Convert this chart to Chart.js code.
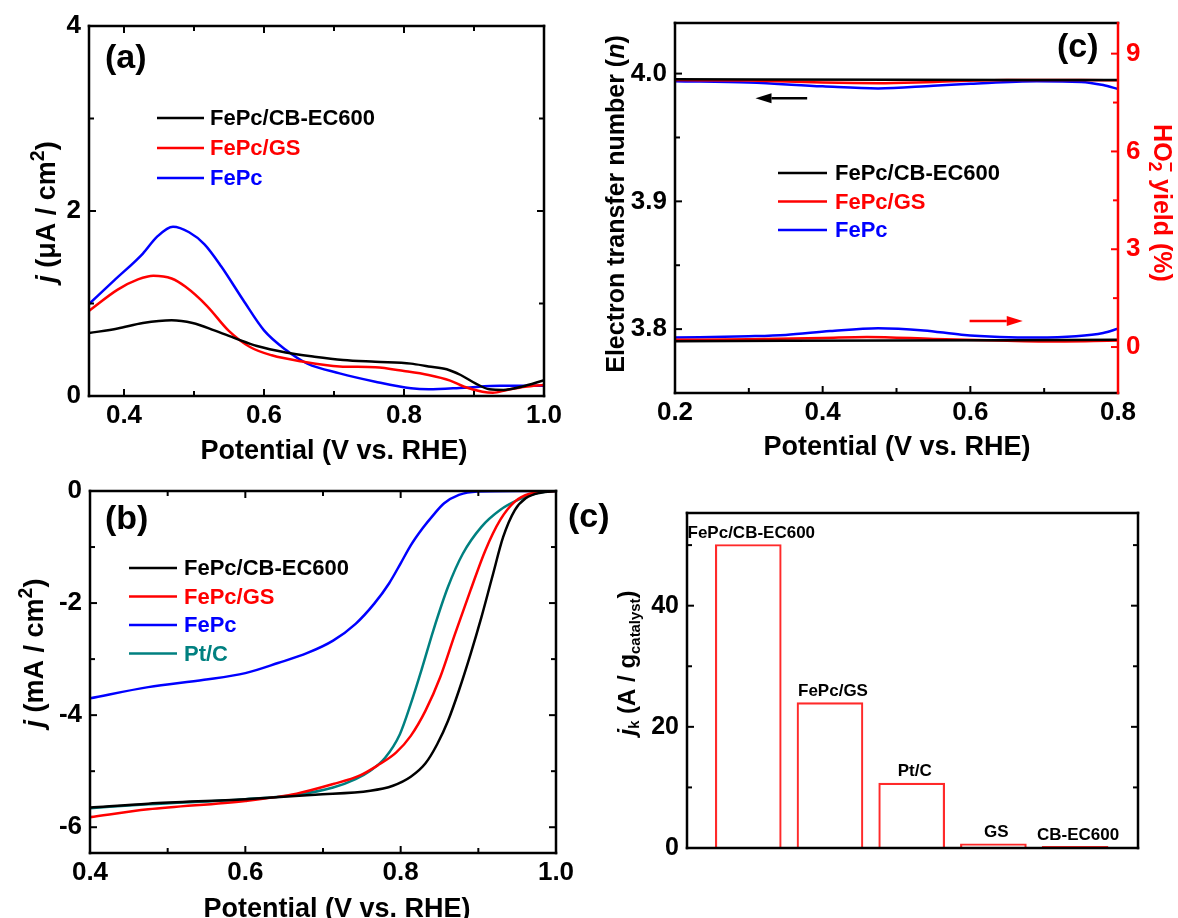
<!DOCTYPE html>
<html><head><meta charset="utf-8">
<script src="https://cdn.jsdelivr.net/npm/chart.js@4.4.0/dist/chart.umd.min.js"></script>
<style>
html,body{margin:0;padding:0;background:#fff;width:1178px;height:918px;overflow:hidden;position:relative;}
canvas{position:absolute;}
</style></head><body>
<canvas id="ca" width="580" height="468" style="left:0;top:0"></canvas>
<canvas id="cc" width="598" height="468" style="left:580px;top:0"></canvas>
<canvas id="cb" width="580" height="450" style="left:0;top:468px"></canvas>
<canvas id="cd" width="618" height="450" style="left:560px;top:468px"></canvas>
<script>
// ---------- Panel (a): ring current ----------
const aPotCB = [0.35,0.391,0.427,0.468,0.498,0.529,0.56,0.59,0.631,0.672,0.713,0.759,0.81,0.835,0.861,0.881,0.902,0.922,0.942,0.968,1.0];
const aJCB   = [0.68,0.73,0.79,0.82,0.79,0.71,0.62,0.54,0.47,0.425,0.39,0.37,0.35,0.32,0.29,0.227,0.137,0.072,0.065,0.10,0.17];
const aPotGS = [0.35,0.391,0.42,0.442,0.468,0.488,0.519,0.549,0.58,0.611,0.657,0.708,0.759,0.80,0.835,0.866,0.886,0.912,0.927,0.947,0.973,1.0];
const aJGS   = [0.92,1.15,1.26,1.30,1.27,1.18,0.97,0.71,0.53,0.44,0.37,0.32,0.31,0.27,0.227,0.166,0.10,0.047,0.036,0.065,0.10,0.12];
const aPotFe = [0.35,0.386,0.427,0.447,0.47,0.493,0.515,0.539,0.57,0.60,0.631,0.662,0.708,0.759,0.81,0.835,0.886,0.937,1.0];
const aJFe   = [0.995,1.25,1.54,1.72,1.83,1.77,1.64,1.40,1.04,0.71,0.50,0.35,0.245,0.155,0.083,0.072,0.09,0.11,0.11];
const aXTicks = [0.4,0.6,0.8,1.0], aXMinor = [0.5,0.7,0.9];
const aYTicks = [0,2,4], aYMinor = [1,3];

// ---------- Panel (b): LSV ----------
const bPotFe = [0.4,0.475,0.547,0.6,0.642,0.68,0.713,0.742,0.766,0.785,0.8,0.813,0.828,0.842,0.856,0.875,0.899,0.95,1.0];
const bJFe   = [-3.70,-3.50,-3.37,-3.25,-3.07,-2.89,-2.67,-2.37,-2.01,-1.65,-1.29,-0.97,-0.67,-0.43,-0.22,-0.07,-0.01,0,0];
const bPotCB = [0.4,0.475,0.6,0.69,0.761,0.79,0.813,0.832,0.847,0.861,0.875,0.89,0.904,0.918,0.932,0.947,0.961,0.98,1.0];
const bJCB   = [-5.65,-5.58,-5.50,-5.42,-5.35,-5.26,-5.10,-4.86,-4.52,-4.10,-3.56,-2.91,-2.25,-1.53,-0.82,-0.34,-0.13,-0.03,0];
const bPotGS = [0.4,0.475,0.6,0.666,0.713,0.747,0.77,0.794,0.813,0.832,0.851,0.87,0.89,0.909,0.928,0.947,0.966,1.0];
const bJGS   = [-5.82,-5.68,-5.53,-5.40,-5.23,-5.08,-4.90,-4.67,-4.37,-3.92,-3.32,-2.55,-1.77,-1.06,-0.52,-0.19,-0.05,0];
const bPotPt = [0.4,0.475,0.6,0.666,0.713,0.742,0.761,0.78,0.799,0.813,0.828,0.842,0.861,0.88,0.904,0.928,0.951,0.975,1.0];
const bJPt   = [-5.66,-5.59,-5.50,-5.42,-5.29,-5.14,-4.99,-4.76,-4.34,-3.80,-3.14,-2.49,-1.71,-1.12,-0.64,-0.34,-0.16,-0.04,0];
const bXTicks = [0.4,0.6,0.8,1.0], bXMinor = [0.5,0.7,0.9];
const bYTicks = [0,-2,-4,-6], bYMinor = [-1,-3,-5];

// ---------- Panel (c): n and HO2- yield ----------
const cPotCBn = [0.2,0.5,0.8];
const cNCB    = [3.9955,3.9952,3.995];
const cPotGSn = [0.2,0.3,0.4,0.475,0.55,0.65,0.75,0.8];
const cNGS    = [3.995,3.9945,3.993,3.9925,3.9935,3.995,3.995,3.9948];
const cPotFen = [0.2,0.3,0.4,0.475,0.55,0.6,0.69,0.75,0.78,0.8];
const cNFe    = [3.994,3.993,3.990,3.9883,3.9905,3.992,3.994,3.9935,3.991,3.988];
const cPotCBy = [0.2,0.5,0.8];
const cYCB    = [0.18,0.2,0.22];
const cPotGSy = [0.2,0.3,0.4,0.46,0.55,0.65,0.7,0.8];
const cYGS    = [0.22,0.24,0.28,0.31,0.25,0.19,0.17,0.2];
const cPotFey = [0.2,0.3,0.35,0.41,0.475,0.537,0.588,0.64,0.69,0.743,0.78,0.8];
const cYFe    = [0.29,0.33,0.37,0.49,0.58,0.51,0.38,0.31,0.29,0.33,0.43,0.56];
const cXTicks = [0.2,0.4,0.6,0.8], cXMinor = [0.3,0.5,0.7];
const cNTicks = [3.8,3.9,4.0], cNMinor = [3.85,3.95];
const cYTicks = [0,3,6,9], cYMinor = [1.5,4.5,7.5];

// ---------- Panel (d): kinetic current ----------
const dCats = ['FePc/CB-EC600','FePc/GS','Pt/C','GS','CB-EC600'];
const dVals = [50.1,24.0,10.7,0.7,0.27];
const dYTicks = [0,20,40], dYMinor = [10,30,50];

// ---------- helpers ----------
const FONT = '"Liberation Sans", Arial, Helvetica, sans-serif';
Chart.defaults.font.family = FONT;
Chart.defaults.color = '#000';
const tickFont = {size: 26, weight: 'bold', family: FONT};
function fontStr(size, italic){ return (italic?'italic ':'') + 'bold ' + size + 'px ' + FONT; }

function linAxis(o){
  return {
    type:'linear', position:o.position, min:o.min, max:o.max, offset:false,
    grid:{display:false, drawTicks:false}, border:{display:false},
    ticks:{display:o.show!==false, font:o.font||tickFont, color:o.color||'#000', padding:o.padding||0,
           callback:o.fmt, maxRotation:0, autoSkip:false},
    afterBuildTicks: s => { s.ticks = o.ticks.map(v => ({value:v})); },
    afterFit: s => {
      if (s.isHorizontal()) s.height = o.size; else s.width = o.size;
      s.paddingLeft = s.paddingRight = s.paddingTop = s.paddingBottom = 0;
    }
  };
}
function ds(label, xs, ys, color, extra){
  return Object.assign({label, data: xs.map((x,i)=>({x, y: ys[i]})), borderColor: color, backgroundColor: color,
    borderWidth: 2.5, pointRadius: 0, cubicInterpolationMode:'monotone', fill:false}, extra||{});
}
function drawRich(ctx, t){
  ctx.save();
  ctx.translate(t.x, t.y); ctx.rotate(t.rot||0);
  ctx.fillStyle = t.color||'#000'; ctx.textBaseline='alphabetic'; ctx.textAlign='left';
  let x = 0, prevStart = 0, prevW = 0; const items = [];
  for (const p of t.parts){
    const s = t.size*(p.scale||1);
    ctx.font = fontStr(s, p.italic);
    const w = ctx.measureText(p.t).width;
    let px;
    if (p.stack){ px = prevStart; x += Math.max(0, w-prevW); }
    else { px = x; prevStart = x; prevW = w; x += w; }
    items.push({p, s, px});
  }
  for (const it of items){
    ctx.font = fontStr(it.s, it.p.italic);
    ctx.fillText(it.p.t, it.px - x/2, t.size*0.36 + (it.p.dy||0)*t.size);
  }
  ctx.restore();
}
function drawTicks(ctx, chart, sp){
  const sc = chart.scales[sp.scale], a = chart.chartArea;
  ctx.strokeStyle = sp.color||'#000'; ctx.lineWidth = 2;
  const draw = (vals, len) => vals.forEach(v => {
    const p = sc.getPixelForValue(v);
    ctx.beginPath();
    if (sp.side==='bottom'){ ctx.moveTo(p,a.bottom); ctx.lineTo(p,a.bottom-len); }
    else if (sp.side==='top'){ ctx.moveTo(p,a.top); ctx.lineTo(p,a.top+len); }
    else if (sp.side==='left'){ ctx.moveTo(a.left,p); ctx.lineTo(a.left+len,p); }
    else { ctx.moveTo(a.right,p); ctx.lineTo(a.right-len,p); }
    ctx.stroke();
  });
  draw(sp.major||[], 7); draw(sp.minor||[], 5);
}
function deco(cfg){
  return {
    id:'deco',
    afterDatasetsDraw(chart){
      const ctx = chart.ctx, a = chart.chartArea;
      ctx.save();
      (cfg.ticks||[]).forEach(t => drawTicks(ctx, chart, t));
      const f = cfg.frame||{};
      ctx.lineWidth = 2.5; ctx.lineCap='square';
      [['top',a.left,a.top,a.right,a.top],['bottom',a.left,a.bottom,a.right,a.bottom],
       ['left',a.left,a.top,a.left,a.bottom],['right',a.right,a.top,a.right,a.bottom]].forEach(([k,x1,y1,x2,y2])=>{
        ctx.strokeStyle = f[k]||'#000'; ctx.beginPath(); ctx.moveTo(x1,y1); ctx.lineTo(x2,y2); ctx.stroke();
      });
      ctx.lineCap='butt';
      (cfg.arrows||[]).forEach(ar => {
        const xs = chart.scales.x, ys = chart.scales[ar.axis];
        const x1 = xs.getPixelForValue(ar.from), x2 = xs.getPixelForValue(ar.to), y = ys.getPixelForValue(ar.y);
        const dir = Math.sign(x2-x1), hl = 16, hw = 5;
        ctx.strokeStyle = ctx.fillStyle = ar.color; ctx.lineWidth = 2.5;
        ctx.beginPath(); ctx.moveTo(x1,y); ctx.lineTo(x2-dir*hl,y); ctx.stroke();
        ctx.beginPath(); ctx.moveTo(x2,y); ctx.lineTo(x2-dir*hl,y-hw); ctx.lineTo(x2-dir*hl,y+hw); ctx.closePath(); ctx.fill();
      });
      if (cfg.legend){
        const L = cfg.legend;
        const items = chart.data.datasets.filter(d => !d.noLegend);
        ctx.font = fontStr(L.size, false); ctx.textBaseline='middle'; ctx.textAlign='left';
        items.forEach((d,i) => {
          const y = a.top + L.y + i*L.dy;
          ctx.strokeStyle = d.borderColor; ctx.lineWidth = 2.5;
          ctx.beginPath(); ctx.moveTo(a.left+L.x, y); ctx.lineTo(a.left+L.x+L.len, y); ctx.stroke();
          ctx.fillStyle = L.textColor || d.borderColor;
          ctx.fillText(d.label, a.left+L.tx, y+1);
        });
      }
      if (cfg.barLabels){
        const meta = chart.getDatasetMeta(0);
        ctx.font = fontStr(17,false); ctx.fillStyle='#000'; ctx.textAlign='center'; ctx.textBaseline='bottom';
        meta.data.forEach((el,i) => ctx.fillText(cfg.barLabels[i], el.x+3, el.y-3));
      }
      (cfg.panels||[]).forEach(p => {
        ctx.font = fontStr(p.size||34,false); ctx.fillStyle='#000'; ctx.textAlign='left'; ctx.textBaseline='middle';
        ctx.fillText(p.text, a.left+p.x, a.top+p.y);
      });
      (cfg.titles||[]).forEach(t => drawRich(ctx, t));
      ctx.restore();
    }
  };
}
const common = {responsive:false, animation:false, devicePixelRatio:1,
  plugins:{legend:{display:false}, tooltip:{enabled:false}}};
const f1 = v => v.toFixed(1), f0 = v => String(v);
const TS = 27;
const potTitle = [{t:'Potential (V vs. RHE)'}];

// ---------- chart (a) ----------
new Chart(document.getElementById('ca'), {
  type:'line',
  data:{datasets:[
    ds('FePc/CB-EC600', aPotCB, aJCB, '#000000'),
    ds('FePc/GS', aPotGS, aJGS, '#ff0000'),
    ds('FePc', aPotFe, aJFe, '#0000ff')
  ]},
  options:Object.assign({}, common, {
    layout:{padding:{top:26, right:36, left:0, bottom:0}},
    scales:{
      x: linAxis({position:'bottom', min:0.35, max:1.0, ticks:aXTicks, fmt:f1, size:72, padding:4}),
      y: linAxis({position:'left', min:0, max:4, ticks:aYTicks, fmt:f0, size:89, padding:8})
    }
  }),
  plugins:[deco({
    ticks:[{scale:'x',side:'bottom',major:aXTicks,minor:aXMinor},{scale:'x',side:'top',major:aXTicks,minor:aXMinor},
           {scale:'y',side:'left',major:aYTicks,minor:aYMinor},{scale:'y',side:'right',major:aYTicks,minor:aYMinor}],
    legend:{x:68, len:47, tx:121, y:92, dy:30, size:22},
    panels:[{text:'(a)', x:16, y:33}],
    titles:[
      {parts:potTitle, x:334, y:449, size:TS},
      {parts:[{t:'j',italic:true},{t:' (μA / cm'},{t:'2',scale:0.72,dy:-0.38},{t:')'}], x:45, y:212, rot:-Math.PI/2, size:TS}
    ]
  })]
});

// ---------- chart (c) top right ----------
new Chart(document.getElementById('cc'), {
  type:'line',
  data:{datasets:[
    ds('FePc/CB-EC600', cPotCBn, cNCB, '#000000', {yAxisID:'y'}),
    ds('FePc/GS', cPotGSn, cNGS, '#ff0000', {yAxisID:'y'}),
    ds('FePc', cPotFen, cNFe, '#0000ff', {yAxisID:'y'}),
    ds('FePc/CB-EC600', cPotCBy, cYCB, '#000000', {yAxisID:'y2', noLegend:true}),
    ds('FePc/GS', cPotGSy, cYGS, '#ff0000', {yAxisID:'y2', noLegend:true}),
    ds('FePc', cPotFey, cYFe, '#0000ff', {yAxisID:'y2', noLegend:true})
  ]},
  options:Object.assign({}, common, {
    layout:{padding:{top:23, right:0, left:0, bottom:0}},
    scales:{
      x: linAxis({position:'bottom', min:0.2, max:0.8, ticks:cXTicks, fmt:f1, size:75, padding:4}),
      y: linAxis({position:'left', min:3.75, max:4.0396, ticks:cNTicks, fmt:f1, size:95, padding:8}),
      y2: linAxis({position:'right', min:-1.41, max:9.94, ticks:cYTicks, fmt:f0, size:60, padding:8, color:'#ff0000'})
    }
  }),
  plugins:[deco({
    frame:{right:'#ff0000'},
    ticks:[{scale:'x',side:'bottom',major:cXTicks,minor:cXMinor},
           {scale:'y',side:'left',major:cNTicks,minor:cNMinor},
           {scale:'y2',side:'right',major:cYTicks,minor:cYMinor,color:'#ff0000'}],
    arrows:[{axis:'y', from:0.379, to:0.309, y:3.9807, color:'#000000'},
            {axis:'y2', from:0.599, to:0.671, y:0.80, color:'#ff0000'}],
    legend:{x:103, len:49, tx:160, y:150, dy:28.5, size:22},
    panels:[{text:'(c)', x:382, y:25}],
    titles:[
      {parts:potTitle, x:317, y:445, size:TS},
      {parts:[{t:'Electron transfer number ('},{t:'n',italic:true},{t:')'}], x:35, y:204, rot:-Math.PI/2, size:25},
      {parts:[{t:'HO'},{t:'2',scale:0.72,dy:0.22},{t:'−',scale:0.72,dy:-0.42,stack:true},{t:' yield (%)'}], x:583, y:203, rot:Math.PI/2, size:25, color:'#ff0000'}
    ]
  })]
});

// ---------- chart (b) ----------
new Chart(document.getElementById('cb'), {
  type:'line',
  data:{datasets:[
    ds('FePc/CB-EC600', bPotCB, bJCB, '#000000'),
    ds('FePc/GS', bPotGS, bJGS, '#ff0000'),
    ds('FePc', bPotFe, bJFe, '#0000ff'),
    ds('Pt/C', bPotPt, bJPt, '#008080')
  ]},
  options:Object.assign({}, common, {
    layout:{padding:{top:23, right:24, left:0, bottom:0}},
    scales:{
      x: linAxis({position:'bottom', min:0.4, max:1.0, ticks:bXTicks, fmt:f1, size:65, padding:4}),
      y: linAxis({position:'left', min:-6.46, max:0, ticks:bYTicks, fmt:f0, size:90, padding:8})
    }
  }),
  plugins:[deco({
    ticks:[{scale:'x',side:'bottom',major:bXTicks,minor:bXMinor},{scale:'x',side:'top',major:bXTicks,minor:bXMinor},
           {scale:'y',side:'left',major:bYTicks,minor:bYMinor},{scale:'y',side:'right',major:bYTicks,minor:bYMinor}],
    legend:{x:39, len:48, tx:94, y:77, dy:28.5, size:22},
    panels:[{text:'(b)', x:15, y:29}],
    titles:[
      {parts:potTitle, x:337, y:439, size:TS},
      {parts:[{t:'j',italic:true},{t:' (mA / cm'},{t:'2',scale:0.72,dy:-0.38},{t:')'}], x:33, y:185, rot:-Math.PI/2, size:TS}
    ]
  })]
});

// ---------- chart (d) bars ----------
new Chart(document.getElementById('cd'), {
  type:'bar',
  data:{datasets:[{
    label:'jk', data: dCats.map((c,i)=>({x:i, y:dVals[i]})),
    backgroundColor:'rgba(255,255,255,0)', borderColor:'#ff2a2a', borderWidth:1.5, barThickness:66
  }]},
  options:Object.assign({}, common, {
    layout:{padding:{top:45, right:40, left:0, bottom:0}},
    scales:{
      x: linAxis({position:'bottom', min:-0.75, max:4.77, ticks:[0,1,2,3,4], fmt:f0, size:70, show:false}),
      y: linAxis({position:'left', min:0, max:55.3, ticks:dYTicks, fmt:f0, size:127, padding:8,
                  font:{size:25, weight:'bold', family:FONT}})
    }
  }),
  plugins:[deco({
    ticks:[{scale:'y',side:'left',major:dYTicks,minor:dYMinor},{scale:'y',side:'right',major:dYTicks,minor:dYMinor}],
    barLabels: dCats,
    panels:[{text:'(c)', x:-119, y:5}],
    titles:[
      {parts:[{t:'j',italic:true},{t:'k',scale:0.62,dy:0.2},{t:' (A / g'},{t:'catalyst',scale:0.62,dy:0.22},{t:')'}], x:66, y:195, rot:-Math.PI/2, size:24}
    ]
  })]
});
</script>
</body></html>
